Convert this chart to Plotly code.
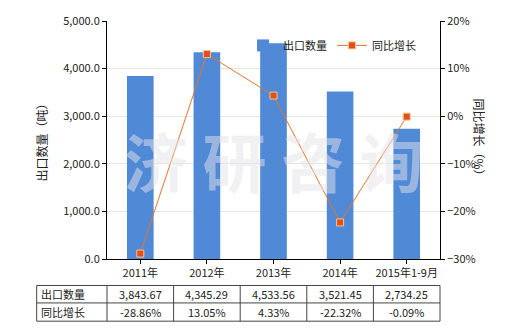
import plotly.graph_objects as go

categories = ["2011年", "2012年", "2013年", "2014年", "2015年1-9月"]
export_qty = [3843.67, 4345.29, 4533.56, 3521.45, 2734.25]
yoy_growth = [-28.86, 13.05, 4.33, -22.32, -0.09]
row_labels = ["出口数量", "同比增长"]

FONT = "Noto Sans CJK SC, DejaVu Sans, sans-serif"
BAR_COLOR = "#5089D6"
LINE_COLOR = "#E8742A"
MARKER_COLOR = "#E0501C"

fig = go.Figure()
fig.add_trace(go.Bar(
    x=categories, y=export_qty, name="出口数量",
    marker=dict(color=BAR_COLOR, line=dict(width=0)), width=0.4, yaxis="y"))
fig.add_trace(go.Scatter(
    x=categories, y=yoy_growth, name="同比增长", mode="lines+markers",
    line=dict(color=LINE_COLOR, width=1),
    marker=dict(symbol="square", size=7, color=MARKER_COLOR,
                line=dict(color="#F7C38E", width=1)),
    yaxis="y2"))

L, R, T, B = 107, 80, 19, 71
PW, PH = 520 - L - R, 330 - T - B

def px_x(px):
    return (px - L) / PW

def px_y(py):
    return (330 - B - py) / PH

shapes = []
annotations = []
# table
x_edges = [36.7] + [L + PW * i / len(categories) for i in range(len(categories) + 1)]
y_edges = [285.7, 303.3, 321.7]
line_style = dict(color="#444444", width=1)
for yy in y_edges:
    shapes.append(dict(type="line", xref="paper", yref="paper",
                       x0=px_x(x_edges[0]), x1=px_x(x_edges[-1]),
                       y0=px_y(yy), y1=px_y(yy), line=line_style))
for xx in x_edges:
    shapes.append(dict(type="line", xref="paper", yref="paper",
                       x0=px_x(xx), x1=px_x(xx),
                       y0=px_y(y_edges[0]), y1=px_y(y_edges[-1]), line=line_style))
row_vals = [[f"{v:,.2f}" for v in export_qty], [f"{v:.2f}%" for v in yoy_growth]]
for r in range(2):
    yc = (y_edges[r] + y_edges[r + 1]) / 2
    annotations.append(dict(text=row_labels[r], xref="paper", yref="paper",
                            x=px_x(x_edges[0] + 2), y=px_y(yc), xanchor="left",
                            yanchor="middle", showarrow=False,
                            font=dict(size=11, color="#222222", family=FONT)))
    for c in range(len(categories)):
        xc = (x_edges[c + 1] + x_edges[c + 2]) / 2
        annotations.append(dict(text=row_vals[r][c], xref="paper", yref="paper",
                                x=px_x(xc), y=px_y(yc), xanchor="center",
                                yanchor="middle", showarrow=False,
                                font=dict(size=11, color="#222222", family=FONT)))
# watermark
annotations.append(dict(text="<b>济 研 咨 询</b>", xref="paper", yref="paper", x=0.5, y=0.42,
                        showarrow=False, font=dict(size=64, color="rgba(228,228,234,0.5)",
                                                   family=FONT)))
# axis titles
annotations.append(dict(text="出口数量（吨）", xref="paper", yref="paper",
                        x=px_x(30), y=0.5, textangle=-90, showarrow=False,
                        font=dict(size=12, color="#222222", family=FONT)))
annotations.append(dict(text="同比增长（%）", xref="paper", yref="paper",
                        x=px_x(490), y=0.5, textangle=90, showarrow=False,
                        font=dict(size=12, color="#222222", family=FONT)))

fig.update_layout(
    width=520, height=330, margin=dict(l=L, r=R, t=T, b=B),
    paper_bgcolor="white", plot_bgcolor="white",
    font=dict(family=FONT, size=11, color="#222222"),
    bargap=0.6,
    xaxis=dict(showline=True, linecolor="black", linewidth=1, ticks="outside",
               ticklen=4, tickcolor="black", showgrid=False,
               tickfont=dict(size=11)),
    yaxis=dict(range=[0, 5000], dtick=1000, tickformat=",.1f", showline=True,
               linecolor="black", linewidth=1, ticks="outside", ticklen=4,
               tickcolor="black", showgrid=True, gridcolor="#E6E6E0", zeroline=False),
    yaxis2=dict(range=[-30, 20], dtick=10, ticksuffix="%", overlaying="y",
                side="right", showline=True, linecolor="black", linewidth=1,
                ticks="outside", ticklen=4, tickcolor="black", showgrid=False,
                zeroline=False),
    legend=dict(orientation="h", x=px_x(243), y=px_y(29), xanchor="left",
                yanchor="top", bgcolor="rgba(0,0,0,0)", font=dict(size=11),
                itemwidth=30, tracegroupgap=0),
    showlegend=True,
    shapes=shapes, annotations=annotations,
)

fig.write_html("out.html")
